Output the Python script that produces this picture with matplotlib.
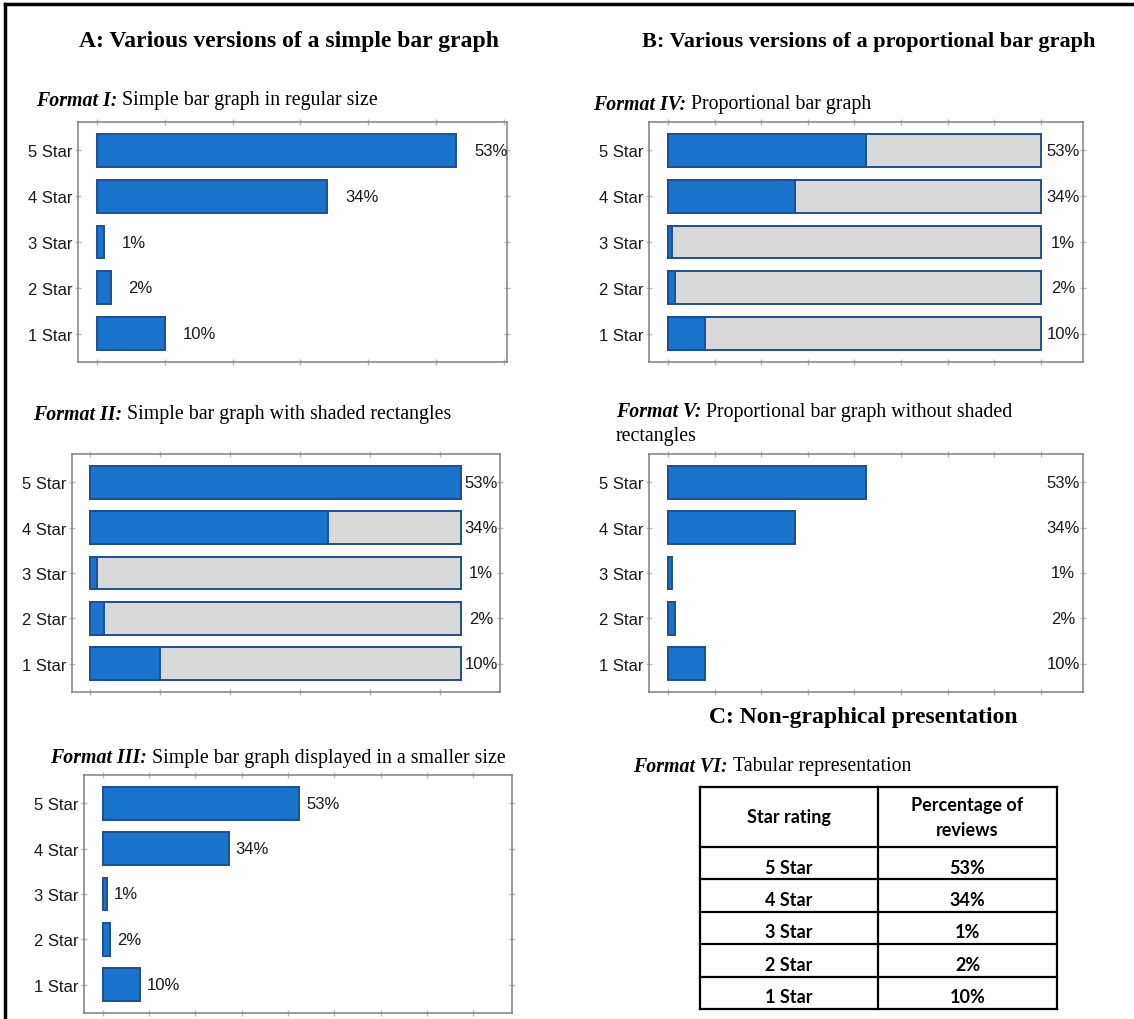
import matplotlib
matplotlib.use("Agg")
import matplotlib.pyplot as plt
from matplotlib.lines import Line2D

# data
categories = ["5 Star", "4 Star", "3 Star", "2 Star", "1 Star"]
pct = [53, 34, 1, 2, 10]
table_header = ["Star rating", "Percentage of\nreviews"]

W, H = 1134, 1020
BLUE = "#1b74cc"
EDGE = "#1d4f94"
GRAY = "#d9d9d9"
SPINE = "#808080"
TICK = "#b8b8b8"
INK = "#1a1a1a"
SANS = "Liberation Sans"
SERIF = "Liberation Serif"

fig = plt.figure(figsize=(W / 100, H / 100), dpi=100)
fig.patch.set_facecolor("white")
renderer = fig.canvas.get_renderer()


def box(x0, y0, x1, y1):
    return [x0 / W, 1 - y1 / H, (x1 - x0) / W, (y1 - y0) / H]


def fmt_title(x, y, head, rest, size=14.3):
    t = fig.text(x / W, 1 - y / H, head, family=SERIF, weight="bold",
                 style="italic", fontsize=size, va="center", color="black")
    bb = t.get_window_extent(renderer)
    fig.text(bb.x1 / W + 5 / W, 1 - y / H, rest, family=SERIF,
             fontsize=size, va="center", color="black")


def bar_panel(rect, xlim, xticks, mode, full=None, label_at=None, offset=17):
    ax = fig.add_axes(box(*rect))
    ypos = list(range(len(categories)))
    if mode == "shaded":
        ax.barh(ypos, [full] * len(pct), height=0.72, color=GRAY,
                edgecolor=EDGE, linewidth=1.4, zorder=2)
    ax.barh(ypos, pct, height=0.72, color=BLUE, edgecolor=EDGE,
            linewidth=1.4, zorder=3)
    for y, v in zip(ypos, pct):
        lab = f"{v}%"
        if label_at is None:
            ax.annotate(lab, (v, y), xytext=(offset, 0), textcoords="offset points",
                        va="center", ha="left", fontsize=12, family=SANS, color=INK)
        else:
            ax.text(label_at, y, lab, transform=ax.get_yaxis_transform(),
                    va="center", ha="center", fontsize=12, family=SANS, color=INK)
    ax.set_xlim(*xlim)
    ax.set_ylim(4.62, -0.62)
    ax.set_xticks(xticks)
    ax.set_xticklabels([])
    ax.set_yticks(ypos)
    ax.set_yticklabels(categories, fontsize=12, family=SANS, color=INK)
    ax.tick_params(axis="x", top=True, bottom=True, direction="inout",
                   length=5, color=TICK, width=1)
    ax.tick_params(axis="y", left=True, right=True, direction="inout",
                   length=5, color=TICK, width=1, pad=1.5)
    for s in ax.spines.values():
        s.set_color(SPINE)
        s.set_linewidth(1.1)
    return ax


ticks10 = [0, 10, 20, 30, 40, 50, 60]
ticks125 = [0, 12.5, 25, 37.5, 50, 62.5, 75, 87.5, 100]

# section headers
fig.text(289 / W, 1 - 42 / H, "A: Various versions of a simple bar graph",
         family=SERIF, weight="bold", fontsize=17, ha="center", va="center")
fig.text(869 / W, 1 - 42 / H, "B: Various versions of a proportional bar graph",
         family=SERIF, weight="bold", fontsize=16, ha="center", va="center")
fig.text(863 / W, 1 - 718 / H, "C: Non-graphical presentation",
         family=SERIF, weight="bold", fontsize=17, ha="center", va="center")

# A
fmt_title(36, 101, "Format I:", "Simple bar graph in regular size")
bar_panel((78, 123, 507, 363), (-2.8, 60.5), ticks10, "simple", offset=13)

fmt_title(33, 415, "Format II:", "Simple bar graph with shaded rectangles")
bar_panel((72, 455, 500, 693), (-2.57, 58.6), ticks10[:-1], "shaded",
          full=max(pct), label_at=0.956)

fmt_title(50, 758, "Format III:", "Simple bar graph displayed in a smaller size")
bar_panel((84, 776, 512, 1014), (-5.1, 110.5), ticks125, "simple", offset=5)

# B
fmt_title(593, 105, "Format IV:", "Proportional bar graph")
bar_panel((649, 123, 1083, 363), (-5.1, 111.3), ticks125, "shaded",
          full=100, label_at=0.954)

fmt_title(616, 412, "Format V:", "Proportional bar graph without shaded")
fig.text(616 / W, 1 - 437 / H, "rectangles", family=SERIF, fontsize=14.3, va="center")
bar_panel((649, 455, 1083, 693), (-5.1, 111.3), ticks125, "simple",
          label_at=0.954)

# C: table
fmt_title(633, 767, "Format VI:", "Tabular representation")
tx0, ty0, tx1, ty1 = 700, 788, 1057, 1010
tax = fig.add_axes(box(tx0, ty0, tx1, ty1))
tax.set_xlim(0, tx1 - tx0)
tax.set_ylim(ty1 - ty0, 0)
tax.axis("off")
col_split = 178
head_h = 60
row_h = (ty1 - ty0 - head_h) / len(categories)
kw = dict(family="Lato", weight="bold", fontsize=13, ha="center", va="center", color="black")
tax.text(col_split / 2, head_h / 2, table_header[0], **kw)
tax.text((col_split + tx1 - tx0) / 2, head_h / 2, table_header[1], linespacing=1.55, **kw)
for i, (c, v) in enumerate(zip(categories, pct)):
    yc = head_h + row_h * (i + 0.5)
    tax.text(col_split / 2, yc + 4, c, **kw)
    tax.text((col_split + tx1 - tx0) / 2, yc + 4, f"{v}%", **kw)
lw = 1.6
for i in range(len(categories) + 1):
    tax.axhline(head_h + row_h * i, color="black", lw=lw, clip_on=False)
tax.axhline(0, color="black", lw=lw, clip_on=False)
tax.axvline(0, color="black", lw=lw, clip_on=False)
tax.axvline(col_split, color="black", lw=lw, clip_on=False)
tax.axvline(tx1 - tx0, color="black", lw=lw, clip_on=False)

# outer frame (top and left edges)
fig.add_artist(Line2D([5 / W, 1], [1 - 5 / H, 1 - 5 / H], color="black", lw=2.5))
fig.add_artist(Line2D([5 / W, 5 / W], [0, 1 - 5 / H], color="black", lw=2.5))

fig.savefig("out.png", dpi=100, facecolor="white")
